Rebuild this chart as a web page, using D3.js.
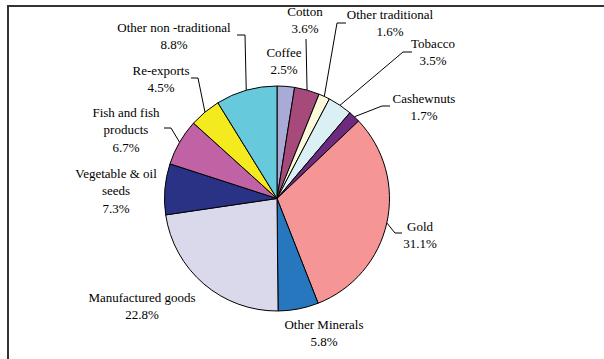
<!DOCTYPE html>
<html>
<head>
<meta charset="utf-8">
<script src="https://cdn.jsdelivr.net/npm/d3@7"></script>
<style>
  html, body { margin: 0; padding: 0; background: #fff; }
  svg { display: block; }
</style>
</head>
<body>
<svg id="chart" width="604" height="359"></svg>
<script>
// Export shares by product group (percent)
const categories = [
  "Coffee", "Cotton", "Other traditional", "Tobacco", "Cashewnuts", "Gold",
  "Other Minerals", "Manufactured goods", "Vegetable & oil seeds",
  "Fish and fish products", "Re-exports", "Other non-traditional"
];
const shares = [2.5, 3.6, 1.6, 3.5, 1.7, 31.1, 5.8, 22.8, 7.3, 6.7, 4.5, 8.8];
const labelLines = [
  ["Coffee"], ["Cotton"], ["Other traditional"], ["Tobacco"], ["Cashewnuts"], ["Gold"],
  ["Other Minerals"], ["Manufactured goods"], ["Vegetable & oil", "seeds"],
  ["Fish and fish", "products"], ["Re-exports"], ["Other non -traditional"]
];
const sliceColors = [
  "#aaaad6", "#a64a7c", "#fdfadb", "#dbf0f5", "#6e2a7f", "#f59595",
  "#2677be", "#dad9ec", "#2a3286", "#c062a3", "#f4ea1e", "#66cadc"
];

// Layout: label anchor (x, y of first line) and leader elbow points, relative to pie centre
const labelPos = [
  [7, -146.5], [28, -187.5], [113, -184.5], [156, -155.5], [147, -100.5], [143, 27.5],
  [47, 125.5], [-135, 98.5], [-161, -25.5], [-151, -86.5], [-116, -128.5], [-103, -171.5]
];
const leaderPts = [
  null,
  [[29, -159.5]],
  [[60, -175.5], [69, -175.5]],
  [[126, -146.5], [135, -146.5]],
  [[105, -92.5], [113, -92.5]],
  [[118, 34.5], [125, 34.5]],
  null, null, null,
  [[-106, -70.5], [-113, -70.5]],
  [[-79, -120.5], [-86, -120.5]],
  [[-32, -163.5], [-40, -163.5]]
];

const cx = 277, cy = 198.5, radius = 112.5, lineGap = 17.5;
const fontStack = "'Liberation Serif', 'Times New Roman', Times, serif";
const svg = d3.select("#chart");

// Frame lines along the top and left edges
svg.append("line").attr("x1", 7).attr("x2", 604).attr("y1", 6).attr("y2", 6)
  .attr("stroke", "#333").attr("stroke-width", 2);
svg.append("line").attr("x1", 8).attr("x2", 8).attr("y1", 5).attr("y2", 359)
  .attr("stroke", "#333").attr("stroke-width", 2);

const data = categories.map((c, i) => ({ name: c, value: shares[i], i }));
const pie = d3.pie().value(d => d.value).sort(null).startAngle(0).endAngle(2 * Math.PI);
const arc = d3.arc().innerRadius(0).outerRadius(radius);
const arcs = pie(data);

const g = svg.append("g").attr("transform", `translate(${cx},${cy})`);

g.selectAll("path.slice").data(arcs).join("path")
  .attr("class", "slice")
  .attr("d", arc)
  .attr("fill", d => sliceColors[d.data.i])
  .attr("stroke", "#000")
  .attr("stroke-width", 1)
  .attr("stroke-linejoin", "round");

// Leader lines from the arc midpoint to the label
const line = d3.line();
arcs.forEach(d => {
  const pts = leaderPts[d.data.i];
  if (!pts) return;
  const a = (d.startAngle + d.endAngle) / 2;
  const start = [radius * Math.sin(a), -radius * Math.cos(a)];
  g.append("path")
    .attr("d", line([start, ...pts]))
    .attr("fill", "none")
    .attr("stroke", "#000")
    .attr("stroke-width", 1);
});

// Labels: name lines followed by the percentage
arcs.forEach(d => {
  const i = d.data.i;
  const [lx, ly] = labelPos[i];
  const lines = [...labelLines[i], d3.format(".1f")(d.data.value) + "%"];
  const t = g.append("text")
    .attr("text-anchor", "middle")
    .attr("font-family", fontStack)
    .attr("font-size", 13)
    .attr("fill", "#000");
  lines.forEach((s, k) => {
    t.append("tspan").attr("x", lx).attr("y", ly + k * lineGap).attr("dy", "0.35em").text(s);
  });
});
</script>
</body>
</html>
